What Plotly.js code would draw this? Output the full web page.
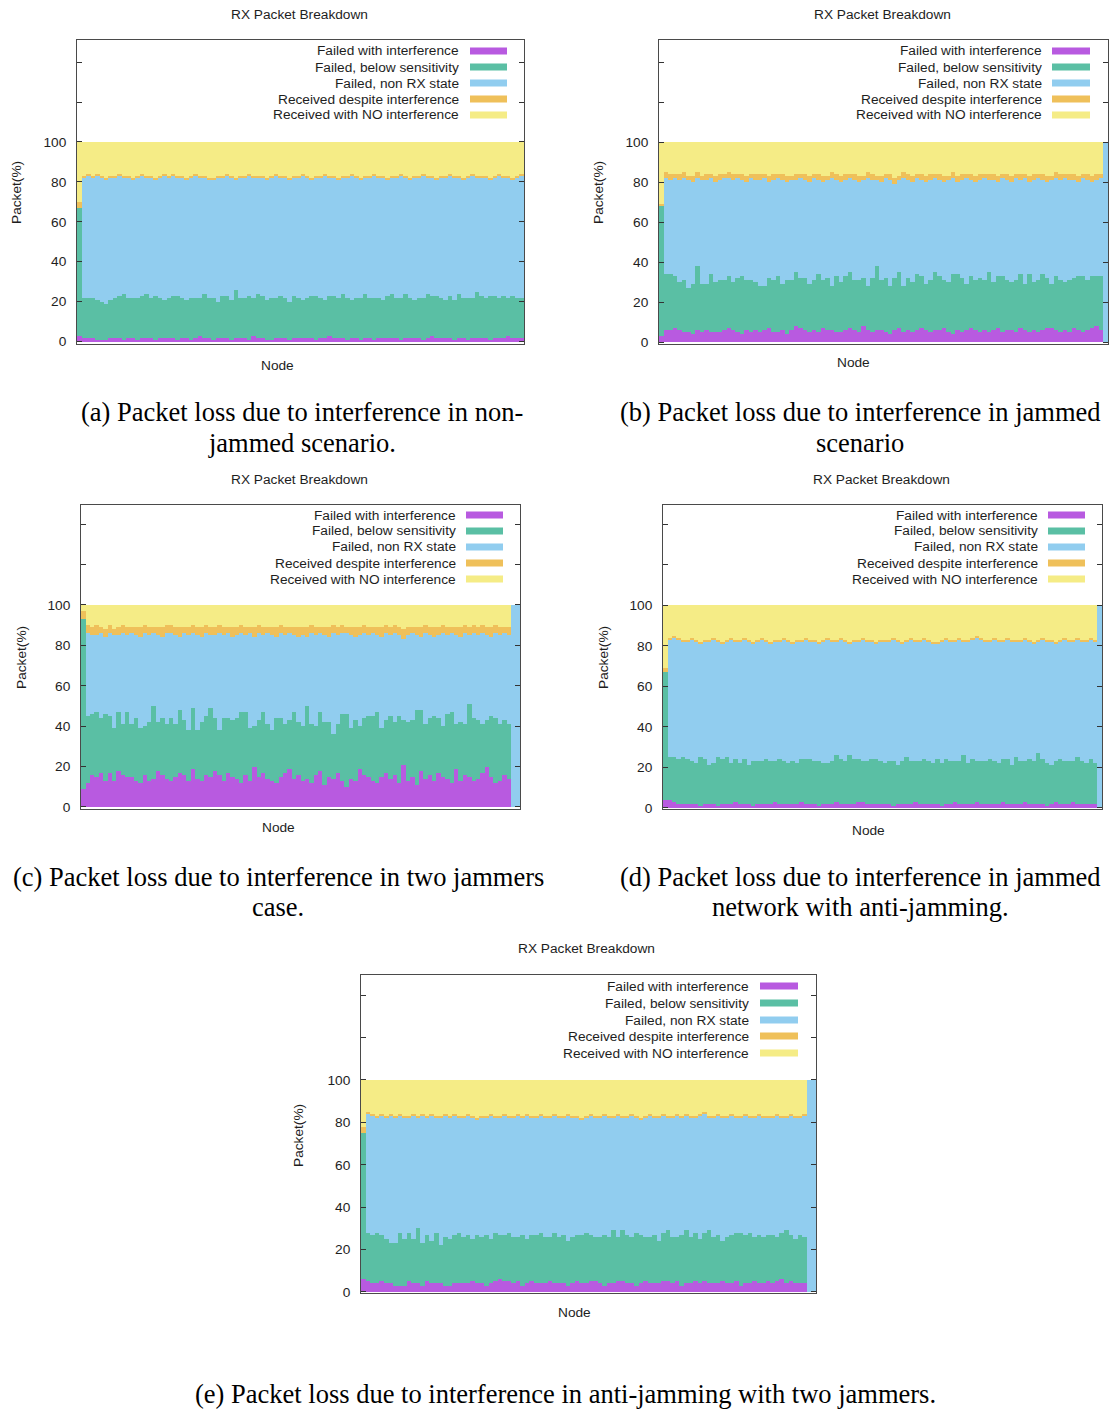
<!DOCTYPE html>
<html><head><meta charset="utf-8">
<script src="https://cdn.plot.ly/plotly-3.0.1.min.js"></script>
<style>html,body{margin:0;padding:0;background:#fff}#plot{width:1110px;height:1410px}</style>
</head><body><div id="plot"></div>
<script>
// ---------- categories / labels ----------
const seriesNames = ["Failed with interference","Failed, below sensitivity","Failed, non RX state","Received despite interference","Received with NO interference"];
const yTickVals = [0,20,40,60,80,100,120,140];
const yTickText = ["0","20","40","60","80","100","",""];
const panelTitle = "RX Packet Breakdown";
const xLabel = "Node";
const yLabel = "Packet(%)";
const captions = [
  ["(a) Packet loss due to interference in non-","jammed scenario."],
  ["(b) Packet loss due to interference in jammed","scenario"],
  ["(c) Packet loss due to interference in two jammers","case."],
  ["(d) Packet loss due to interference in jammed","network with anti-jamming."],
  ["(e) Packet loss due to interference in anti-jamming with two jammers."]
];

// ---------- (a) non-jammed ----------
const a_failInterf = [3,2,2,2,1,1,1,2,2,2, 1,2,2,1,2,2,2,1,2,2, 2,2,1,2,2,1,2,3,2,2, 1,2,2,2,1,2,2,2,1,3, 2,2,1,1,2,2,2,1,2,2, 2,2,2,1,2,2,3,2,2,2, 1,2,2,1,2,2,1,2,2,2, 2,2,1,2,2,2,2,1,2,3, 2,2,2,2,1,2,2,1,2,2, 2,2,1,2,2,2,3,2,2,2];
const a_failSens = [64,20,20,20,20,19,18,19,20,21, 23,20,20,21,21,22,20,22,20,19, 20,21,22,20,19,21,20,19,22,20, 21,18,21,21,20,24,20,20,22,19, 22,21,20,21,20,21,20,19,21,20, 19,20,21,22,20,19,20,21,20,22, 21,19,20,21,22,20,21,20,19,21, 22,20,21,22,20,19,20,21,22,20, 21,20,19,21,20,22,20,21,20,23, 21,20,22,21,20,21,19,21,20,20];
const a_failNonRx = [0,60,61,60,62,62,62,61,60,60, 58,60,59,60,60,58,60,58,60,62, 60,60,59,60,60,60,61,60,58,59, 59,62,59,60,61,55,60,60,60,60, 58,59,60,60,61,59,60,61,59,60, 62,60,58,59,60,62,59,59,59,58, 60,62,60,59,58,60,61,60,61,58, 58,60,61,58,59,61,60,61,58,59, 58,60,61,60,61,58,59,60,61,57, 59,60,58,59,61,59,60,58,60,61];
const a_recvInterf = [3,1,1,1,1,1,1,1,1,1, 1,1,1,1,1,1,1,1,1,1, 1,1,1,1,1,1,1,1,1,1, 1,1,1,1,1,1,1,1,1,1, 1,1,1,1,1,1,1,1,1,1, 1,1,1,1,1,1,1,1,1,1, 1,1,1,1,1,1,1,1,1,1, 1,1,1,1,1,1,1,1,1,1, 1,1,1,1,1,1,1,1,1,1, 1,1,1,1,1,1,1,1,1,1];
const a_recvClean = [30,17,16,17,16,17,18,17,17,16, 17,17,18,17,16,17,17,18,17,16, 17,16,17,17,18,17,16,17,17,18, 18,17,17,16,17,18,17,17,16,17, 17,17,18,17,16,17,17,18,17,17, 16,17,18,17,17,16,17,17,18,17, 17,16,17,18,17,17,16,17,17,18, 17,17,16,17,18,17,17,16,17,17, 18,17,17,16,17,17,18,17,16,17, 17,17,18,17,16,17,17,18,17,16];

// ---------- (b) jammed ----------
const b_failInterf = [3,6,6,7,6,5,5,4,6,5, 6,5,5,5,6,7,6,5,4,6, 5,6,5,6,7,5,5,6,4,6, 8,7,6,5,6,5,7,6,6,5, 5,6,7,6,5,8,6,5,6,6, 5,4,6,7,5,6,5,6,7,6, 5,6,6,7,5,4,6,5,6,7, 6,5,6,5,6,7,5,6,6,5, 7,6,5,6,5,6,7,7,6,5, 6,5,7,6,5,6,7,8,6,0];
const b_failSens = [65,28,28,26,24,26,22,25,32,24, 23,29,25,26,25,26,24,27,29,25, 26,24,23,22,25,26,28,23,27,25, 27,25,26,24,25,29,24,26,22,28, 25,27,28,25,26,24,22,27,32,25, 27,24,26,28,23,26,25,28,26,23, 26,29,27,24,25,30,28,27,23,26, 25,27,25,30,24,26,28,25,24,26, 27,23,29,24,26,28,25,22,27,26, 24,26,25,27,28,25,26,25,27,0];
const b_failNonRx = [0,48,47,49,51,51,54,51,44,52, 52,48,50,50,51,49,51,50,48,49, 51,51,53,54,48,50,49,52,49,50, 46,50,49,51,51,47,49,49,54,48, 50,48,47,50,49,49,54,49,43,49, 50,53,47,46,54,49,50,48,48,51, 50,47,48,49,51,48,46,49,53,48, 49,49,51,46,51,47,49,50,50,51, 47,53,46,51,51,47,48,52,49,50, 52,50,49,47,49,50,47,48,49,100];
const b_recvInterf = [1,3,3,2,3,3,2,3,3,2, 3,2,3,3,2,3,3,2,3,3, 2,3,3,2,3,3,2,3,3,2, 3,2,3,3,2,3,3,2,3,3, 3,3,2,3,3,2,3,3,2,3, 2,3,3,2,3,3,3,2,3,3, 3,2,3,3,2,3,3,3,2,3, 3,3,2,3,3,3,2,3,3,2, 3,2,3,3,2,3,3,2,3,3, 2,3,3,3,2,3,3,3,2,0];
const b_recvClean = [31,15,16,16,16,15,17,17,15,17, 16,16,17,16,16,15,16,16,16,17, 16,16,16,16,17,16,16,16,17,17, 16,16,16,17,16,16,17,17,15,16, 17,16,16,16,17,17,15,16,17,17, 16,16,18,17,15,16,17,16,16,17, 16,16,16,17,17,15,17,16,16,16, 17,16,16,16,16,17,16,16,17,16, 16,16,17,16,16,16,17,17,15,16, 16,16,16,17,16,16,17,16,16,0];

// ---------- (c) two jammers ----------
const c_failInterf = [9,12,16,15,17,13,17,13,18,16, 15,15,13,12,16,13,14,18,16,14, 13,15,17,16,13,19,14,13,16,15, 18,16,13,17,15,14,12,16,13,20, 15,17,14,13,12,15,17,19,14,16, 13,14,12,16,18,11,15,14,17,13, 10,14,13,19,16,15,13,12,15,17, 14,16,12,21,13,15,11,18,14,16, 13,17,15,14,12,19,13,16,15,13, 14,17,20,15,12,13,16,14,0,0];
const c_failSens = [84,33,30,32,27,33,28,26,29,25, 32,26,31,27,24,29,36,24,28,27, 31,26,31,27,25,30,24,29,29,34, 26,22,31,27,28,30,35,31,26,20, 28,30,27,25,32,29,24,24,33,26, 27,36,29,24,29,31,27,22,24,33, 36,25,30,21,28,30,32,35,24,26, 31,26,33,22,29,28,37,30,27,28, 32,27,25,32,35,22,29,25,36,31, 29,24,23,30,32,28,27,27,0,0];
const c_failNonRx = [0,41,39,38,42,38,41,46,38,45, 38,45,41,45,46,43,36,43,40,45, 42,44,36,43,47,37,47,42,41,36, 41,48,41,42,41,41,39,38,47,44, 43,38,45,47,40,42,44,43,38,42, 45,34,45,45,39,43,42,50,44,40, 40,46,41,45,42,40,41,38,45,43, 40,44,40,40,43,43,37,36,45,41, 39,41,46,39,39,44,42,45,34,42, 42,45,42,39,42,44,43,44,100,100];
const c_recvInterf = [4,4,4,5,3,4,4,3,4,4, 4,3,4,5,4,4,3,4,5,4, 4,4,5,3,4,4,4,5,4,4, 4,4,4,3,5,4,4,4,3,5, 4,4,3,4,5,4,4,3,4,5, 4,5,4,4,3,4,5,4,4,4, 3,4,5,4,4,4,3,4,5,4, 4,4,4,5,4,3,4,5,4,4, 5,4,4,4,3,4,5,4,4,4, 4,4,4,5,4,4,3,4,0,0];
const c_recvClean = [3,10,11,10,11,12,10,12,11,10, 11,11,11,11,10,11,11,11,11,10, 10,11,11,11,11,10,11,11,10,11, 11,10,11,11,11,11,10,11,11,11, 10,11,11,11,11,10,11,11,11,11, 11,11,10,11,11,11,11,10,11,10, 11,11,11,11,10,11,11,11,11,10, 11,10,11,12,11,11,11,11,10,11, 11,11,10,11,11,11,11,10,11,10, 11,10,11,11,10,11,11,11,0,0];

// ---------- (d) jammed with anti-jamming ----------
const d_failInterf = [4,4,3,2,2,2,2,2,1,2, 2,2,1,2,2,2,3,2,2,2, 1,2,2,2,2,3,2,2,2,2, 2,3,2,2,2,1,2,2,2,3, 2,2,2,2,3,3,2,2,2,2, 2,2,1,2,2,2,2,3,2,2, 2,2,2,1,2,2,3,2,2,2, 2,3,2,2,2,2,2,3,2,2, 2,2,3,2,2,2,2,1,2,3, 2,2,2,3,2,2,2,2,2,0];
const d_failSens = [63,21,22,22,23,22,21,20,24,22, 19,20,24,22,23,20,21,20,22,19, 22,21,21,22,21,20,22,21,20,21, 20,21,22,22,21,22,20,20,21,23, 22,21,24,22,21,20,21,22,22,21, 20,21,22,19,21,23,21,20,21,22, 21,20,22,21,22,21,20,21,24,20, 22,20,21,21,22,21,20,21,22,19, 23,21,20,22,21,25,22,21,19,20, 22,21,21,20,23,21,20,22,20,0];
const d_failNonRx = [0,58,59,59,57,58,60,60,56,58, 61,61,57,57,57,61,58,60,59,61, 58,59,60,58,58,59,58,60,60,58, 60,58,59,58,59,58,60,61,59,56, 59,59,55,58,58,60,59,58,57,59, 60,59,60,61,58,57,60,59,59,59, 59,59,57,60,59,59,59,60,56,60, 59,61,60,59,58,60,60,58,59,61, 57,59,60,58,58,55,59,60,61,58, 58,60,59,59,58,59,60,59,60,100];
const d_recvInterf = [2,1,1,1,1,1,1,1,1,1, 1,1,1,1,1,1,1,1,1,1, 1,1,1,1,1,1,1,1,1,1, 1,1,1,1,1,1,1,1,1,1, 1,1,1,1,1,1,1,1,1,1, 1,1,1,1,1,1,1,1,1,1, 1,1,1,1,1,1,1,1,1,1, 1,1,1,1,1,1,1,1,1,1, 1,1,1,1,1,1,1,1,1,1, 1,1,1,1,1,1,1,1,1,0];
const d_recvClean = [31,16,15,16,17,17,16,17,18,17, 17,16,17,18,17,16,17,17,16,17, 18,17,16,17,18,17,17,16,17,18, 17,17,16,17,17,18,17,16,17,17, 16,17,18,17,17,16,17,17,18,17, 17,17,16,17,18,17,16,17,17,16, 17,18,18,17,16,17,17,16,17,17, 16,15,16,17,17,16,17,17,16,17, 17,17,16,17,18,17,16,17,17,18, 17,16,17,17,16,17,17,16,17,0];

// ---------- (e) anti-jamming, two jammers ----------
const e_failInterf = [6,5,4,4,5,4,4,3,3,3, 5,4,4,3,5,4,4,4,3,3, 4,4,4,4,5,4,4,3,4,5, 6,5,5,4,5,3,4,5,4,4, 4,5,4,4,4,3,4,5,4,4, 5,5,4,3,4,4,5,5,4,4, 3,4,5,4,4,4,5,5,4,5, 3,4,4,5,4,5,4,4,4,5, 4,4,5,3,4,4,5,4,4,5, 4,5,6,4,5,4,4,4,0,0];
const e_failSens = [69,23,23,24,22,21,19,20,25,22, 23,21,26,20,22,20,24,18,23,22, 23,24,22,23,20,23,22,24,21,23, 21,22,23,22,21,24,21,22,23,24, 22,21,24,22,23,21,22,22,23,24, 22,21,22,24,22,25,21,24,23,22, 25,23,21,22,23,20,23,24,22,21, 24,25,22,23,21,23,25,22,23,19, 22,23,23,25,23,24,21,23,22,22, 23,21,22,25,22,21,23,22,0,0];
const e_failNonRx = [0,56,56,54,56,57,60,59,55,57, 54,58,52,60,55,59,54,60,57,57, 56,54,56,56,57,54,56,55,58,54, 55,56,54,56,57,55,58,55,55,55, 56,56,55,56,55,59,56,55,54,54, 56,56,56,56,56,53,57,53,55,57, 54,54,56,57,55,58,55,53,56,57, 55,54,56,54,58,56,53,56,56,58, 56,56,54,54,56,54,56,56,56,55, 55,57,54,53,56,57,55,57,100,100];
const e_recvInterf = [3,1,1,1,1,1,1,1,1,1, 1,1,1,1,1,1,1,1,1,1, 1,1,1,1,1,1,1,1,1,1, 1,1,1,1,1,1,1,1,1,1, 1,1,1,1,1,1,1,1,1,1, 1,1,1,1,1,1,1,1,1,1, 1,1,1,1,1,1,1,1,1,1, 1,1,1,1,1,1,1,1,1,1, 1,1,1,1,1,1,1,1,1,1, 1,1,1,1,1,1,1,1,0,0];
const e_recvClean = [22,15,16,17,16,17,16,17,16,17, 17,16,17,16,17,16,17,17,16,17, 16,17,17,16,17,18,17,17,16,17, 17,16,17,17,16,17,16,17,17,16, 17,17,16,17,17,16,17,17,18,17, 16,17,17,16,17,17,16,17,17,16, 17,18,17,16,17,17,16,17,17,16, 17,16,17,17,16,15,17,17,16,17, 17,16,17,17,16,17,17,16,17,17, 17,16,17,17,16,17,17,16,0,0];

// ---------- build ----------
const W = 1110, H = 1410;
const fx = v => v / W, fy = v => 1 - v / H;
const colors = ["#b85ae0","#5abfa4","#91cdef","#efc05a","#f5ec86"];
const SANS = "Liberation Sans, Arial, sans-serif";
const SERIF = "Liberation Serif, Times New Roman, serif";
const TXT = "#1e1e1e";
const FS = 13.7;

const panels = [
  {data:[a_failInterf,a_failSens,a_failNonRx,a_recvInterf,a_recvClean], box:[77,40,524,344], yr:[-1.25,151.1], title:[299,15], legEnd:461, swX:[470,507], rows:[51,67,83,99,115], node:[277,365], ylab:[16,193], cap:[[302,412],[302,443]]},
  {data:[b_failInterf,b_failSens,b_failNonRx,b_recvInterf,b_recvClean], box:[659,40,1108,344], yr:[-1,151], title:[882,15], legEnd:1044, swX:[1052,1090], rows:[51,67,83,99,115], node:[853,362], ylab:[598,193], cap:[[860,412],[860,443]]},
  {data:[c_failInterf,c_failSens,c_failNonRx,c_recvInterf,c_recvClean], box:[81,505,520,809], yr:[-1,149.5], title:[299,479], legEnd:458, swX:[466,503], rows:[515,531,547,563,579], node:[278,828], ylab:[21,658], cap:[[278,877],[278,907]]},
  {data:[d_failInterf,d_failSens,d_failNonRx,d_recvInterf,d_recvClean], box:[663,505,1102,809], yr:[-0.5,149.5], title:[881,479], legEnd:1040, swX:[1048,1085], rows:[515,531,547,563,579], node:[868,830], ylab:[603,658], cap:[[860,877],[860,907]]},
  {data:[e_failInterf,e_failSens,e_failNonRx,e_recvInterf,e_recvClean], box:[361,975,816,1293], yr:[-0.5,149.5], title:[586,948], legEnd:751, swX:[760,798], rows:[986,1003,1020,1036,1053], node:[574,1312], ylab:[298,1136], cap:[[565,1394]]}
];

const traces = [];
const layout = {
  width: W, height: H, margin:{l:0,r:0,t:0,b:0},
  paper_bgcolor:"#fff", plot_bgcolor:"#fff",
  barmode:"stack", bargap:0, showlegend:false,
  annotations:[], shapes:[], font:{family:SANS, color:TXT, size:FS}
};

panels.forEach((p, i) => {
  const k = i + 1;
  const xa = "x" + (k === 1 ? "" : k), ya = "y" + (k === 1 ? "" : k);
  const n = p.data[0].length;
  const nodes = Array.from({length:n}, (_, j) => j);
  p.data.forEach((vals, s) => {
    traces.push({type:"bar", x:nodes, y:vals, name:seriesNames[s], xaxis:xa, yaxis:ya,
      marker:{color:colors[s], line:{width:0}}, hoverinfo:"skip"});
  });
  const [x0,y0,x1,y1] = p.box;
  layout["xaxis" + (k===1?"":k)] = {domain:[fx(x0),fx(x1)], anchor:ya, range:[-0.55, n-0.45],
    showticklabels:false, ticks:"", showgrid:false, zeroline:false, showline:true, mirror:true,
    linecolor:"#4a4a4a", linewidth:1, fixedrange:true};
  layout["yaxis" + (k===1?"":k)] = {domain:[fy(y1),fy(y0)], anchor:xa, range:p.yr,
    tickmode:"array", tickvals:yTickVals, ticktext:yTickText, ticks:"inside", ticklen:5, tickcolor:"#333",
    showgrid:false, zeroline:false, showline:true, mirror:"ticks", linecolor:"#4a4a4a", linewidth:1,
    tickfont:{family:SANS, size:FS, color:TXT}, ticklabelstandoff:7, fixedrange:true};
  layout.annotations.push({text:panelTitle, xref:"paper", yref:"paper", x:fx(p.title[0]), y:fy(p.title[1]),
    xanchor:"center", yanchor:"middle", showarrow:false, font:{family:SANS, size:FS, color:TXT}});
  seriesNames.forEach((nm, s) => {
    layout.annotations.push({text:nm, xref:"paper", yref:"paper", x:fx(p.legEnd), y:fy(p.rows[s]),
      xanchor:"right", yanchor:"middle", showarrow:false, font:{family:SANS, size:FS, color:TXT}});
    layout.shapes.push({type:"rect", xref:"paper", yref:"paper", x0:fx(p.swX[0]), x1:fx(p.swX[1]),
      y0:fy(p.rows[s]+3.5), y1:fy(p.rows[s]-3.5), fillcolor:colors[s], line:{width:0}});
  });
  layout.annotations.push({text:xLabel, xref:"paper", yref:"paper", x:fx(p.node[0]), y:fy(p.node[1]),
    xanchor:"center", yanchor:"middle", showarrow:false, font:{family:SANS, size:FS, color:TXT}});
  layout.annotations.push({text:yLabel, xref:"paper", yref:"paper", x:fx(p.ylab[0]), y:fy(p.ylab[1]),
    xanchor:"center", yanchor:"middle", textangle:-90, showarrow:false, font:{family:SANS, size:FS, color:TXT}});
  captions[i].forEach((line, li) => {
    layout.annotations.push({text:line, xref:"paper", yref:"paper", x:fx(p.cap[li][0]), y:fy(p.cap[li][1]),
      xanchor:"center", yanchor:"middle", showarrow:false, font:{family:SERIF, size:26.5, color:"#000"}});
  });
});

Plotly.newPlot("plot", traces, layout, {staticPlot:true, displayModeBar:false});
</script>
</body></html>
